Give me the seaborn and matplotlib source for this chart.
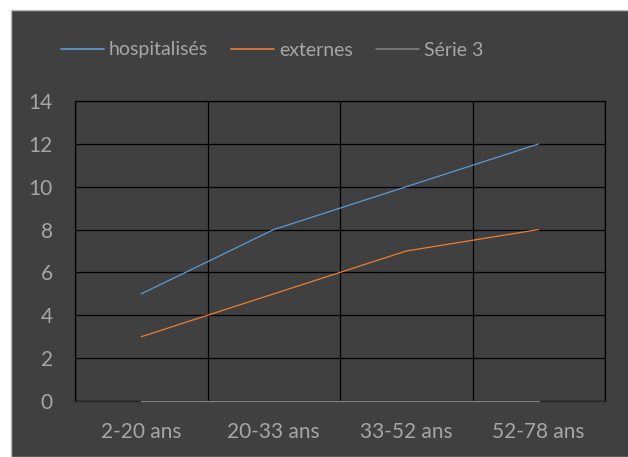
import pandas as pd
import matplotlib.pyplot as plt
import matplotlib.patches as mpatches
import seaborn as sns

# === Data ===
categories = ["2-20 ans", "20-33 ans", "33-52 ans", "52-78 ans"]
hospitalises = [5, 8, 10, 12]
externes = [3, 5, 7, 8]
serie3 = [0, 0, 0, 0]
series_names = ["hospitalisés", "externes", "Série 3"]
colors = ["#5B9BD5", "#ED7D31", "#7F7F7F"]

df = pd.DataFrame({
    "cat": list(range(len(categories))) * 3,
    "value": hospitalises + externes + serie3,
    "serie": [series_names[0]] * 4 + [series_names[1]] * 4 + [series_names[2]] * 4,
})

# === Style ===
sns.set_style("dark")
plt.rcParams["font.family"] = ["Lato", "DejaVu Sans"]
bg = "#404040"
txt = "#A6A6A6"

fig = plt.figure(figsize=(6.28, 4.57), dpi=100)
fig.patch.set_facecolor("white")
fig.patches.append(mpatches.Rectangle((11 / 628, 0), 1, 1 - 10 / 457,
                                      transform=fig.transFigure, facecolor=bg,
                                      edgecolor="#BFBFBF", linewidth=1, zorder=-1))

ax = fig.add_axes([75 / 628, 1 - 401 / 457, 530 / 628, 300 / 457])
ax.set_facecolor(bg)

sns.lineplot(data=df, x="cat", y="value", hue="serie", palette=colors,
             linewidth=0.9, ax=ax, legend=False, zorder=3, clip_on=False)

ax.set_xlim(-0.5, 3.5)
ax.set_ylim(0, 14)
ax.set_yticks(range(0, 15, 2))
ax.set_xticks(range(len(categories)))
ax.set_xticklabels(categories)
ax.set_xticks([-0.5, 0.5, 1.5, 2.5, 3.5], minor=True)
ax.grid(False)
ax.grid(True, which="minor", axis="x", color="black", linewidth=0.9)
ax.grid(True, which="major", axis="y", color="black", linewidth=0.9)
ax.set_axisbelow(True)
ax.tick_params(axis="both", which="both", length=0, colors=txt, labelsize=15)
ax.tick_params(axis="x", pad=15)
ax.tick_params(axis="y", pad=16)
for s in ax.spines.values():
    s.set_color("black")
    s.set_linewidth(0.9)
ax.spines["bottom"].set_color("#262626")
ax.set_xlabel("")
ax.set_ylabel("")

handles = [plt.Line2D([], [], color=c, linewidth=1.2) for c in colors]
fig.legend(handles, series_names, loc="center", bbox_to_anchor=(272 / 628, 1 - 50 / 457),
           ncol=3, frameon=False, fontsize=14, labelcolor=txt, handlelength=2.2,
           handletextpad=0.25, columnspacing=1.2)

plt.savefig("out.png", dpi=100, facecolor=fig.get_facecolor())
